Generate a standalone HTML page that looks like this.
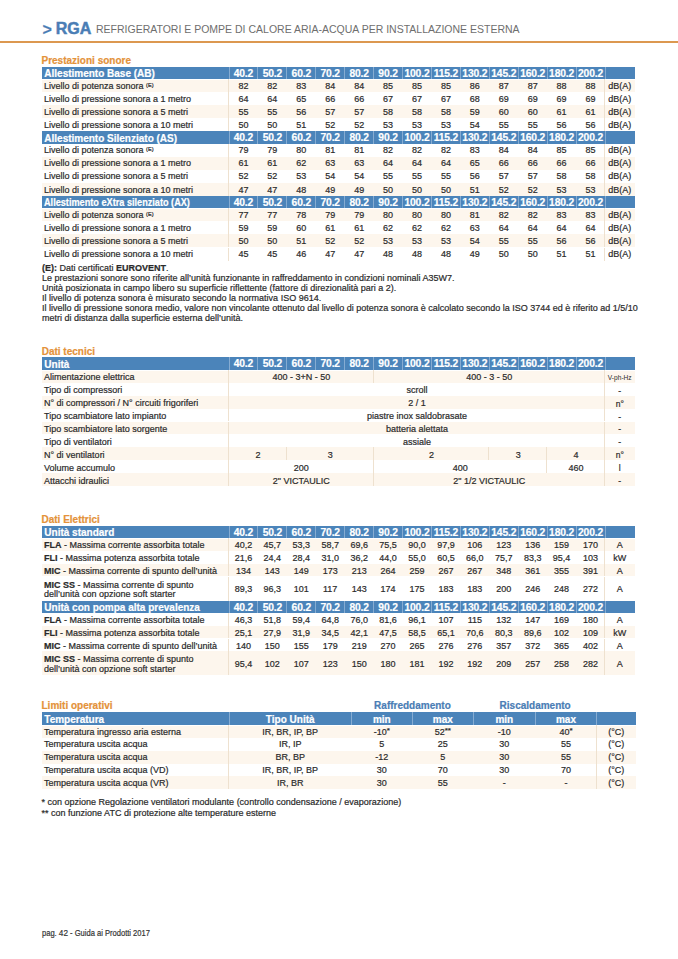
<!DOCTYPE html>
<html><head><meta charset="utf-8"><style>
html,body{margin:0;padding:0;background:#fff;}
body{width:678px;height:959px;position:relative;overflow:hidden;font-family:"Liberation Sans", sans-serif;color:#2a2a2a;}
body>div{position:absolute;line-height:1;white-space:nowrap;-webkit-text-stroke:0.2px currentColor;}
sup{font-size:0.62em;vertical-align:0.35em;line-height:0;}
sup.a{font-size:0.9em;vertical-align:0.2em;}
</style></head><body>
<div style="left:42.50px;top:22.06px;font-size:16px;color:#4a7db5;font-weight:700;">&gt;</div>
<div style="left:55.80px;top:20.76px;font-size:16px;color:#4a7db5;font-weight:700;-webkit-text-stroke:0.5px #4a7db5;">RGA</div>
<div style="left:96.00px;top:24.31px;font-size:11.8px;color:#6e6e6e;transform:scaleX(0.89);transform-origin:0 0;-webkit-text-stroke:0;">REFRIGERATORI E POMPE DI CALORE ARIA-ACQUA PER INSTALLAZIONE ESTERNA</div>
<div style="left:0.00px;top:40.60px;width:678.00px;height:2.40px;background:#dc9850"></div>
<div style="left:41.50px;top:55.73px;font-size:10px;color:#e4923a;font-weight:700;">Prestazioni sonore</div>
<div style="left:41.50px;top:66.80px;width:593.00px;height:12.20px;background:#4b84ba"></div>
<div style="left:44.30px;top:68.90px;font-size:10px;color:#fff;font-weight:700;">Allestimento Base (AB)</div>
<div style="left:228.50px;top:66.80px;width:1.00px;height:12.20px;background:#86acd2"></div>
<div style="left:257.42px;top:66.80px;width:1.00px;height:12.20px;background:#86acd2"></div>
<div style="left:286.35px;top:66.80px;width:1.00px;height:12.20px;background:#86acd2"></div>
<div style="left:315.27px;top:66.80px;width:1.00px;height:12.20px;background:#86acd2"></div>
<div style="left:344.19px;top:66.80px;width:1.00px;height:12.20px;background:#86acd2"></div>
<div style="left:373.12px;top:66.80px;width:1.00px;height:12.20px;background:#86acd2"></div>
<div style="left:402.04px;top:66.80px;width:1.00px;height:12.20px;background:#86acd2"></div>
<div style="left:430.96px;top:66.80px;width:1.00px;height:12.20px;background:#86acd2"></div>
<div style="left:459.88px;top:66.80px;width:1.00px;height:12.20px;background:#86acd2"></div>
<div style="left:488.81px;top:66.80px;width:1.00px;height:12.20px;background:#86acd2"></div>
<div style="left:517.73px;top:66.80px;width:1.00px;height:12.20px;background:#86acd2"></div>
<div style="left:546.65px;top:66.80px;width:1.00px;height:12.20px;background:#86acd2"></div>
<div style="left:575.58px;top:66.80px;width:1.00px;height:12.20px;background:#86acd2"></div>
<div style="left:604.50px;top:66.80px;width:1.00px;height:12.20px;background:#86acd2"></div>
<div style="left:229.00px;top:68.75px;font-size:10.3px;color:#fff;font-weight:700;width:28.92px;text-align:center;letter-spacing:-0.15px;">40.2</div>
<div style="left:257.92px;top:68.75px;font-size:10.3px;color:#fff;font-weight:700;width:28.92px;text-align:center;letter-spacing:-0.15px;">50.2</div>
<div style="left:286.85px;top:68.75px;font-size:10.3px;color:#fff;font-weight:700;width:28.92px;text-align:center;letter-spacing:-0.15px;">60.2</div>
<div style="left:315.77px;top:68.75px;font-size:10.3px;color:#fff;font-weight:700;width:28.92px;text-align:center;letter-spacing:-0.15px;">70.2</div>
<div style="left:344.69px;top:68.75px;font-size:10.3px;color:#fff;font-weight:700;width:28.92px;text-align:center;letter-spacing:-0.15px;">80.2</div>
<div style="left:373.62px;top:68.75px;font-size:10.3px;color:#fff;font-weight:700;width:28.92px;text-align:center;letter-spacing:-0.15px;">90.2</div>
<div style="left:402.54px;top:68.75px;font-size:10.3px;color:#fff;font-weight:700;width:28.92px;text-align:center;letter-spacing:-0.15px;">100.2</div>
<div style="left:431.46px;top:68.75px;font-size:10.3px;color:#fff;font-weight:700;width:28.92px;text-align:center;letter-spacing:-0.15px;">115.2</div>
<div style="left:460.38px;top:68.75px;font-size:10.3px;color:#fff;font-weight:700;width:28.92px;text-align:center;letter-spacing:-0.15px;">130.2</div>
<div style="left:489.31px;top:68.75px;font-size:10.3px;color:#fff;font-weight:700;width:28.92px;text-align:center;letter-spacing:-0.15px;">145.2</div>
<div style="left:518.23px;top:68.75px;font-size:10.3px;color:#fff;font-weight:700;width:28.92px;text-align:center;letter-spacing:-0.15px;">160.2</div>
<div style="left:547.15px;top:68.75px;font-size:10.3px;color:#fff;font-weight:700;width:28.92px;text-align:center;letter-spacing:-0.15px;">180.2</div>
<div style="left:576.08px;top:68.75px;font-size:10.3px;color:#fff;font-weight:700;width:28.92px;text-align:center;letter-spacing:-0.15px;">200.2</div>
<div style="left:41.50px;top:80.00px;width:593.00px;height:12.10px;background:#fdf6ed"></div>
<div style="left:228.10px;top:79.00px;width:1.00px;height:13.10px;background:#eee1cf"></div>
<div style="left:604.10px;top:79.00px;width:1.00px;height:13.10px;background:#eee1cf"></div>
<div style="left:44.00px;top:81.65px;font-size:9px;">Livello di potenza sonora <sup>(E)</sup></div>
<div style="left:229.00px;top:81.65px;font-size:9px;width:28.92px;text-align:center;">82</div>
<div style="left:257.92px;top:81.65px;font-size:9px;width:28.92px;text-align:center;">82</div>
<div style="left:286.85px;top:81.65px;font-size:9px;width:28.92px;text-align:center;">83</div>
<div style="left:315.77px;top:81.65px;font-size:9px;width:28.92px;text-align:center;">84</div>
<div style="left:344.69px;top:81.65px;font-size:9px;width:28.92px;text-align:center;">84</div>
<div style="left:373.62px;top:81.65px;font-size:9px;width:28.92px;text-align:center;">85</div>
<div style="left:402.54px;top:81.65px;font-size:9px;width:28.92px;text-align:center;">85</div>
<div style="left:431.46px;top:81.65px;font-size:9px;width:28.92px;text-align:center;">85</div>
<div style="left:460.38px;top:81.65px;font-size:9px;width:28.92px;text-align:center;">86</div>
<div style="left:489.31px;top:81.65px;font-size:9px;width:28.92px;text-align:center;">87</div>
<div style="left:518.23px;top:81.65px;font-size:9px;width:28.92px;text-align:center;">87</div>
<div style="left:547.15px;top:81.65px;font-size:9px;width:28.92px;text-align:center;">88</div>
<div style="left:576.08px;top:81.65px;font-size:9px;width:28.92px;text-align:center;">88</div>
<div style="left:605.00px;top:81.65px;font-size:9px;width:29.50px;text-align:center;">dB(A)</div>
<div style="left:228.10px;top:92.10px;width:1.00px;height:13.10px;background:#eee1cf"></div>
<div style="left:604.10px;top:92.10px;width:1.00px;height:13.10px;background:#eee1cf"></div>
<div style="left:44.00px;top:94.75px;font-size:9px;">Livello di pressione sonora a 1 metro</div>
<div style="left:229.00px;top:94.75px;font-size:9px;width:28.92px;text-align:center;">64</div>
<div style="left:257.92px;top:94.75px;font-size:9px;width:28.92px;text-align:center;">64</div>
<div style="left:286.85px;top:94.75px;font-size:9px;width:28.92px;text-align:center;">65</div>
<div style="left:315.77px;top:94.75px;font-size:9px;width:28.92px;text-align:center;">66</div>
<div style="left:344.69px;top:94.75px;font-size:9px;width:28.92px;text-align:center;">66</div>
<div style="left:373.62px;top:94.75px;font-size:9px;width:28.92px;text-align:center;">67</div>
<div style="left:402.54px;top:94.75px;font-size:9px;width:28.92px;text-align:center;">67</div>
<div style="left:431.46px;top:94.75px;font-size:9px;width:28.92px;text-align:center;">67</div>
<div style="left:460.38px;top:94.75px;font-size:9px;width:28.92px;text-align:center;">68</div>
<div style="left:489.31px;top:94.75px;font-size:9px;width:28.92px;text-align:center;">69</div>
<div style="left:518.23px;top:94.75px;font-size:9px;width:28.92px;text-align:center;">69</div>
<div style="left:547.15px;top:94.75px;font-size:9px;width:28.92px;text-align:center;">69</div>
<div style="left:576.08px;top:94.75px;font-size:9px;width:28.92px;text-align:center;">69</div>
<div style="left:605.00px;top:94.75px;font-size:9px;width:29.50px;text-align:center;">dB(A)</div>
<div style="left:41.50px;top:105.20px;width:593.00px;height:13.10px;background:#fdf6ed"></div>
<div style="left:228.10px;top:105.20px;width:1.00px;height:13.10px;background:#eee1cf"></div>
<div style="left:604.10px;top:105.20px;width:1.00px;height:13.10px;background:#eee1cf"></div>
<div style="left:44.00px;top:107.85px;font-size:9px;">Livello di pressione sonora a 5 metri</div>
<div style="left:229.00px;top:107.85px;font-size:9px;width:28.92px;text-align:center;">55</div>
<div style="left:257.92px;top:107.85px;font-size:9px;width:28.92px;text-align:center;">55</div>
<div style="left:286.85px;top:107.85px;font-size:9px;width:28.92px;text-align:center;">56</div>
<div style="left:315.77px;top:107.85px;font-size:9px;width:28.92px;text-align:center;">57</div>
<div style="left:344.69px;top:107.85px;font-size:9px;width:28.92px;text-align:center;">57</div>
<div style="left:373.62px;top:107.85px;font-size:9px;width:28.92px;text-align:center;">58</div>
<div style="left:402.54px;top:107.85px;font-size:9px;width:28.92px;text-align:center;">58</div>
<div style="left:431.46px;top:107.85px;font-size:9px;width:28.92px;text-align:center;">58</div>
<div style="left:460.38px;top:107.85px;font-size:9px;width:28.92px;text-align:center;">59</div>
<div style="left:489.31px;top:107.85px;font-size:9px;width:28.92px;text-align:center;">60</div>
<div style="left:518.23px;top:107.85px;font-size:9px;width:28.92px;text-align:center;">60</div>
<div style="left:547.15px;top:107.85px;font-size:9px;width:28.92px;text-align:center;">61</div>
<div style="left:576.08px;top:107.85px;font-size:9px;width:28.92px;text-align:center;">61</div>
<div style="left:605.00px;top:107.85px;font-size:9px;width:29.50px;text-align:center;">dB(A)</div>
<div style="left:228.10px;top:118.30px;width:1.00px;height:13.10px;background:#eee1cf"></div>
<div style="left:604.10px;top:118.30px;width:1.00px;height:13.10px;background:#eee1cf"></div>
<div style="left:44.00px;top:120.95px;font-size:9px;">Livello di pressione sonora a 10 metri</div>
<div style="left:229.00px;top:120.95px;font-size:9px;width:28.92px;text-align:center;">50</div>
<div style="left:257.92px;top:120.95px;font-size:9px;width:28.92px;text-align:center;">50</div>
<div style="left:286.85px;top:120.95px;font-size:9px;width:28.92px;text-align:center;">51</div>
<div style="left:315.77px;top:120.95px;font-size:9px;width:28.92px;text-align:center;">52</div>
<div style="left:344.69px;top:120.95px;font-size:9px;width:28.92px;text-align:center;">52</div>
<div style="left:373.62px;top:120.95px;font-size:9px;width:28.92px;text-align:center;">53</div>
<div style="left:402.54px;top:120.95px;font-size:9px;width:28.92px;text-align:center;">53</div>
<div style="left:431.46px;top:120.95px;font-size:9px;width:28.92px;text-align:center;">53</div>
<div style="left:460.38px;top:120.95px;font-size:9px;width:28.92px;text-align:center;">54</div>
<div style="left:489.31px;top:120.95px;font-size:9px;width:28.92px;text-align:center;">55</div>
<div style="left:518.23px;top:120.95px;font-size:9px;width:28.92px;text-align:center;">55</div>
<div style="left:547.15px;top:120.95px;font-size:9px;width:28.92px;text-align:center;">56</div>
<div style="left:576.08px;top:120.95px;font-size:9px;width:28.92px;text-align:center;">56</div>
<div style="left:605.00px;top:120.95px;font-size:9px;width:29.50px;text-align:center;">dB(A)</div>
<div style="left:41.50px;top:131.40px;width:593.00px;height:12.20px;background:#4b84ba"></div>
<div style="left:44.30px;top:133.50px;font-size:10px;color:#fff;font-weight:700;">Allestimento Silenziato (AS)</div>
<div style="left:228.50px;top:131.40px;width:1.00px;height:12.20px;background:#86acd2"></div>
<div style="left:257.42px;top:131.40px;width:1.00px;height:12.20px;background:#86acd2"></div>
<div style="left:286.35px;top:131.40px;width:1.00px;height:12.20px;background:#86acd2"></div>
<div style="left:315.27px;top:131.40px;width:1.00px;height:12.20px;background:#86acd2"></div>
<div style="left:344.19px;top:131.40px;width:1.00px;height:12.20px;background:#86acd2"></div>
<div style="left:373.12px;top:131.40px;width:1.00px;height:12.20px;background:#86acd2"></div>
<div style="left:402.04px;top:131.40px;width:1.00px;height:12.20px;background:#86acd2"></div>
<div style="left:430.96px;top:131.40px;width:1.00px;height:12.20px;background:#86acd2"></div>
<div style="left:459.88px;top:131.40px;width:1.00px;height:12.20px;background:#86acd2"></div>
<div style="left:488.81px;top:131.40px;width:1.00px;height:12.20px;background:#86acd2"></div>
<div style="left:517.73px;top:131.40px;width:1.00px;height:12.20px;background:#86acd2"></div>
<div style="left:546.65px;top:131.40px;width:1.00px;height:12.20px;background:#86acd2"></div>
<div style="left:575.58px;top:131.40px;width:1.00px;height:12.20px;background:#86acd2"></div>
<div style="left:604.50px;top:131.40px;width:1.00px;height:12.20px;background:#86acd2"></div>
<div style="left:229.00px;top:133.35px;font-size:10.3px;color:#fff;font-weight:700;width:28.92px;text-align:center;letter-spacing:-0.15px;">40.2</div>
<div style="left:257.92px;top:133.35px;font-size:10.3px;color:#fff;font-weight:700;width:28.92px;text-align:center;letter-spacing:-0.15px;">50.2</div>
<div style="left:286.85px;top:133.35px;font-size:10.3px;color:#fff;font-weight:700;width:28.92px;text-align:center;letter-spacing:-0.15px;">60.2</div>
<div style="left:315.77px;top:133.35px;font-size:10.3px;color:#fff;font-weight:700;width:28.92px;text-align:center;letter-spacing:-0.15px;">70.2</div>
<div style="left:344.69px;top:133.35px;font-size:10.3px;color:#fff;font-weight:700;width:28.92px;text-align:center;letter-spacing:-0.15px;">80.2</div>
<div style="left:373.62px;top:133.35px;font-size:10.3px;color:#fff;font-weight:700;width:28.92px;text-align:center;letter-spacing:-0.15px;">90.2</div>
<div style="left:402.54px;top:133.35px;font-size:10.3px;color:#fff;font-weight:700;width:28.92px;text-align:center;letter-spacing:-0.15px;">100.2</div>
<div style="left:431.46px;top:133.35px;font-size:10.3px;color:#fff;font-weight:700;width:28.92px;text-align:center;letter-spacing:-0.15px;">115.2</div>
<div style="left:460.38px;top:133.35px;font-size:10.3px;color:#fff;font-weight:700;width:28.92px;text-align:center;letter-spacing:-0.15px;">130.2</div>
<div style="left:489.31px;top:133.35px;font-size:10.3px;color:#fff;font-weight:700;width:28.92px;text-align:center;letter-spacing:-0.15px;">145.2</div>
<div style="left:518.23px;top:133.35px;font-size:10.3px;color:#fff;font-weight:700;width:28.92px;text-align:center;letter-spacing:-0.15px;">160.2</div>
<div style="left:547.15px;top:133.35px;font-size:10.3px;color:#fff;font-weight:700;width:28.92px;text-align:center;letter-spacing:-0.15px;">180.2</div>
<div style="left:576.08px;top:133.35px;font-size:10.3px;color:#fff;font-weight:700;width:28.92px;text-align:center;letter-spacing:-0.15px;">200.2</div>
<div style="left:228.10px;top:143.60px;width:1.00px;height:13.10px;background:#eee1cf"></div>
<div style="left:604.10px;top:143.60px;width:1.00px;height:13.10px;background:#eee1cf"></div>
<div style="left:44.00px;top:146.25px;font-size:9px;">Livello di potenza sonora <sup>(E)</sup></div>
<div style="left:229.00px;top:146.25px;font-size:9px;width:28.92px;text-align:center;">79</div>
<div style="left:257.92px;top:146.25px;font-size:9px;width:28.92px;text-align:center;">79</div>
<div style="left:286.85px;top:146.25px;font-size:9px;width:28.92px;text-align:center;">80</div>
<div style="left:315.77px;top:146.25px;font-size:9px;width:28.92px;text-align:center;">81</div>
<div style="left:344.69px;top:146.25px;font-size:9px;width:28.92px;text-align:center;">81</div>
<div style="left:373.62px;top:146.25px;font-size:9px;width:28.92px;text-align:center;">82</div>
<div style="left:402.54px;top:146.25px;font-size:9px;width:28.92px;text-align:center;">82</div>
<div style="left:431.46px;top:146.25px;font-size:9px;width:28.92px;text-align:center;">82</div>
<div style="left:460.38px;top:146.25px;font-size:9px;width:28.92px;text-align:center;">83</div>
<div style="left:489.31px;top:146.25px;font-size:9px;width:28.92px;text-align:center;">84</div>
<div style="left:518.23px;top:146.25px;font-size:9px;width:28.92px;text-align:center;">84</div>
<div style="left:547.15px;top:146.25px;font-size:9px;width:28.92px;text-align:center;">85</div>
<div style="left:576.08px;top:146.25px;font-size:9px;width:28.92px;text-align:center;">85</div>
<div style="left:605.00px;top:146.25px;font-size:9px;width:29.50px;text-align:center;">dB(A)</div>
<div style="left:41.50px;top:156.70px;width:593.00px;height:13.10px;background:#fdf6ed"></div>
<div style="left:228.10px;top:156.70px;width:1.00px;height:13.10px;background:#eee1cf"></div>
<div style="left:604.10px;top:156.70px;width:1.00px;height:13.10px;background:#eee1cf"></div>
<div style="left:44.00px;top:159.35px;font-size:9px;">Livello di pressione sonora a 1 metro</div>
<div style="left:229.00px;top:159.35px;font-size:9px;width:28.92px;text-align:center;">61</div>
<div style="left:257.92px;top:159.35px;font-size:9px;width:28.92px;text-align:center;">61</div>
<div style="left:286.85px;top:159.35px;font-size:9px;width:28.92px;text-align:center;">62</div>
<div style="left:315.77px;top:159.35px;font-size:9px;width:28.92px;text-align:center;">63</div>
<div style="left:344.69px;top:159.35px;font-size:9px;width:28.92px;text-align:center;">63</div>
<div style="left:373.62px;top:159.35px;font-size:9px;width:28.92px;text-align:center;">64</div>
<div style="left:402.54px;top:159.35px;font-size:9px;width:28.92px;text-align:center;">64</div>
<div style="left:431.46px;top:159.35px;font-size:9px;width:28.92px;text-align:center;">64</div>
<div style="left:460.38px;top:159.35px;font-size:9px;width:28.92px;text-align:center;">65</div>
<div style="left:489.31px;top:159.35px;font-size:9px;width:28.92px;text-align:center;">66</div>
<div style="left:518.23px;top:159.35px;font-size:9px;width:28.92px;text-align:center;">66</div>
<div style="left:547.15px;top:159.35px;font-size:9px;width:28.92px;text-align:center;">66</div>
<div style="left:576.08px;top:159.35px;font-size:9px;width:28.92px;text-align:center;">66</div>
<div style="left:605.00px;top:159.35px;font-size:9px;width:29.50px;text-align:center;">dB(A)</div>
<div style="left:228.10px;top:169.80px;width:1.00px;height:13.10px;background:#eee1cf"></div>
<div style="left:604.10px;top:169.80px;width:1.00px;height:13.10px;background:#eee1cf"></div>
<div style="left:44.00px;top:172.45px;font-size:9px;">Livello di pressione sonora a 5 metri</div>
<div style="left:229.00px;top:172.45px;font-size:9px;width:28.92px;text-align:center;">52</div>
<div style="left:257.92px;top:172.45px;font-size:9px;width:28.92px;text-align:center;">52</div>
<div style="left:286.85px;top:172.45px;font-size:9px;width:28.92px;text-align:center;">53</div>
<div style="left:315.77px;top:172.45px;font-size:9px;width:28.92px;text-align:center;">54</div>
<div style="left:344.69px;top:172.45px;font-size:9px;width:28.92px;text-align:center;">54</div>
<div style="left:373.62px;top:172.45px;font-size:9px;width:28.92px;text-align:center;">55</div>
<div style="left:402.54px;top:172.45px;font-size:9px;width:28.92px;text-align:center;">55</div>
<div style="left:431.46px;top:172.45px;font-size:9px;width:28.92px;text-align:center;">55</div>
<div style="left:460.38px;top:172.45px;font-size:9px;width:28.92px;text-align:center;">56</div>
<div style="left:489.31px;top:172.45px;font-size:9px;width:28.92px;text-align:center;">57</div>
<div style="left:518.23px;top:172.45px;font-size:9px;width:28.92px;text-align:center;">57</div>
<div style="left:547.15px;top:172.45px;font-size:9px;width:28.92px;text-align:center;">58</div>
<div style="left:576.08px;top:172.45px;font-size:9px;width:28.92px;text-align:center;">58</div>
<div style="left:605.00px;top:172.45px;font-size:9px;width:29.50px;text-align:center;">dB(A)</div>
<div style="left:41.50px;top:182.90px;width:593.00px;height:13.10px;background:#fdf6ed"></div>
<div style="left:228.10px;top:182.90px;width:1.00px;height:13.10px;background:#eee1cf"></div>
<div style="left:604.10px;top:182.90px;width:1.00px;height:13.10px;background:#eee1cf"></div>
<div style="left:44.00px;top:185.55px;font-size:9px;">Livello di pressione sonora a 10 metri</div>
<div style="left:229.00px;top:185.55px;font-size:9px;width:28.92px;text-align:center;">47</div>
<div style="left:257.92px;top:185.55px;font-size:9px;width:28.92px;text-align:center;">47</div>
<div style="left:286.85px;top:185.55px;font-size:9px;width:28.92px;text-align:center;">48</div>
<div style="left:315.77px;top:185.55px;font-size:9px;width:28.92px;text-align:center;">49</div>
<div style="left:344.69px;top:185.55px;font-size:9px;width:28.92px;text-align:center;">49</div>
<div style="left:373.62px;top:185.55px;font-size:9px;width:28.92px;text-align:center;">50</div>
<div style="left:402.54px;top:185.55px;font-size:9px;width:28.92px;text-align:center;">50</div>
<div style="left:431.46px;top:185.55px;font-size:9px;width:28.92px;text-align:center;">50</div>
<div style="left:460.38px;top:185.55px;font-size:9px;width:28.92px;text-align:center;">51</div>
<div style="left:489.31px;top:185.55px;font-size:9px;width:28.92px;text-align:center;">52</div>
<div style="left:518.23px;top:185.55px;font-size:9px;width:28.92px;text-align:center;">52</div>
<div style="left:547.15px;top:185.55px;font-size:9px;width:28.92px;text-align:center;">53</div>
<div style="left:576.08px;top:185.55px;font-size:9px;width:28.92px;text-align:center;">53</div>
<div style="left:605.00px;top:185.55px;font-size:9px;width:29.50px;text-align:center;">dB(A)</div>
<div style="left:41.50px;top:196.00px;width:593.00px;height:12.20px;background:#4b84ba"></div>
<div style="left:44.30px;top:198.10px;font-size:10px;color:#fff;font-weight:700;transform:scaleX(0.915);transform-origin:0 0;">Allestimento eXtra silenziato (AX)</div>
<div style="left:228.50px;top:196.00px;width:1.00px;height:12.20px;background:#86acd2"></div>
<div style="left:257.42px;top:196.00px;width:1.00px;height:12.20px;background:#86acd2"></div>
<div style="left:286.35px;top:196.00px;width:1.00px;height:12.20px;background:#86acd2"></div>
<div style="left:315.27px;top:196.00px;width:1.00px;height:12.20px;background:#86acd2"></div>
<div style="left:344.19px;top:196.00px;width:1.00px;height:12.20px;background:#86acd2"></div>
<div style="left:373.12px;top:196.00px;width:1.00px;height:12.20px;background:#86acd2"></div>
<div style="left:402.04px;top:196.00px;width:1.00px;height:12.20px;background:#86acd2"></div>
<div style="left:430.96px;top:196.00px;width:1.00px;height:12.20px;background:#86acd2"></div>
<div style="left:459.88px;top:196.00px;width:1.00px;height:12.20px;background:#86acd2"></div>
<div style="left:488.81px;top:196.00px;width:1.00px;height:12.20px;background:#86acd2"></div>
<div style="left:517.73px;top:196.00px;width:1.00px;height:12.20px;background:#86acd2"></div>
<div style="left:546.65px;top:196.00px;width:1.00px;height:12.20px;background:#86acd2"></div>
<div style="left:575.58px;top:196.00px;width:1.00px;height:12.20px;background:#86acd2"></div>
<div style="left:604.50px;top:196.00px;width:1.00px;height:12.20px;background:#86acd2"></div>
<div style="left:229.00px;top:197.95px;font-size:10.3px;color:#fff;font-weight:700;width:28.92px;text-align:center;letter-spacing:-0.15px;">40.2</div>
<div style="left:257.92px;top:197.95px;font-size:10.3px;color:#fff;font-weight:700;width:28.92px;text-align:center;letter-spacing:-0.15px;">50.2</div>
<div style="left:286.85px;top:197.95px;font-size:10.3px;color:#fff;font-weight:700;width:28.92px;text-align:center;letter-spacing:-0.15px;">60.2</div>
<div style="left:315.77px;top:197.95px;font-size:10.3px;color:#fff;font-weight:700;width:28.92px;text-align:center;letter-spacing:-0.15px;">70.2</div>
<div style="left:344.69px;top:197.95px;font-size:10.3px;color:#fff;font-weight:700;width:28.92px;text-align:center;letter-spacing:-0.15px;">80.2</div>
<div style="left:373.62px;top:197.95px;font-size:10.3px;color:#fff;font-weight:700;width:28.92px;text-align:center;letter-spacing:-0.15px;">90.2</div>
<div style="left:402.54px;top:197.95px;font-size:10.3px;color:#fff;font-weight:700;width:28.92px;text-align:center;letter-spacing:-0.15px;">100.2</div>
<div style="left:431.46px;top:197.95px;font-size:10.3px;color:#fff;font-weight:700;width:28.92px;text-align:center;letter-spacing:-0.15px;">115.2</div>
<div style="left:460.38px;top:197.95px;font-size:10.3px;color:#fff;font-weight:700;width:28.92px;text-align:center;letter-spacing:-0.15px;">130.2</div>
<div style="left:489.31px;top:197.95px;font-size:10.3px;color:#fff;font-weight:700;width:28.92px;text-align:center;letter-spacing:-0.15px;">145.2</div>
<div style="left:518.23px;top:197.95px;font-size:10.3px;color:#fff;font-weight:700;width:28.92px;text-align:center;letter-spacing:-0.15px;">160.2</div>
<div style="left:547.15px;top:197.95px;font-size:10.3px;color:#fff;font-weight:700;width:28.92px;text-align:center;letter-spacing:-0.15px;">180.2</div>
<div style="left:576.08px;top:197.95px;font-size:10.3px;color:#fff;font-weight:700;width:28.92px;text-align:center;letter-spacing:-0.15px;">200.2</div>
<div style="left:41.50px;top:209.20px;width:593.00px;height:12.10px;background:#fdf6ed"></div>
<div style="left:228.10px;top:208.20px;width:1.00px;height:13.10px;background:#eee1cf"></div>
<div style="left:604.10px;top:208.20px;width:1.00px;height:13.10px;background:#eee1cf"></div>
<div style="left:44.00px;top:210.85px;font-size:9px;">Livello di potenza sonora <sup>(E)</sup></div>
<div style="left:229.00px;top:210.85px;font-size:9px;width:28.92px;text-align:center;">77</div>
<div style="left:257.92px;top:210.85px;font-size:9px;width:28.92px;text-align:center;">77</div>
<div style="left:286.85px;top:210.85px;font-size:9px;width:28.92px;text-align:center;">78</div>
<div style="left:315.77px;top:210.85px;font-size:9px;width:28.92px;text-align:center;">79</div>
<div style="left:344.69px;top:210.85px;font-size:9px;width:28.92px;text-align:center;">79</div>
<div style="left:373.62px;top:210.85px;font-size:9px;width:28.92px;text-align:center;">80</div>
<div style="left:402.54px;top:210.85px;font-size:9px;width:28.92px;text-align:center;">80</div>
<div style="left:431.46px;top:210.85px;font-size:9px;width:28.92px;text-align:center;">80</div>
<div style="left:460.38px;top:210.85px;font-size:9px;width:28.92px;text-align:center;">81</div>
<div style="left:489.31px;top:210.85px;font-size:9px;width:28.92px;text-align:center;">82</div>
<div style="left:518.23px;top:210.85px;font-size:9px;width:28.92px;text-align:center;">82</div>
<div style="left:547.15px;top:210.85px;font-size:9px;width:28.92px;text-align:center;">83</div>
<div style="left:576.08px;top:210.85px;font-size:9px;width:28.92px;text-align:center;">83</div>
<div style="left:605.00px;top:210.85px;font-size:9px;width:29.50px;text-align:center;">dB(A)</div>
<div style="left:228.10px;top:221.30px;width:1.00px;height:13.10px;background:#eee1cf"></div>
<div style="left:604.10px;top:221.30px;width:1.00px;height:13.10px;background:#eee1cf"></div>
<div style="left:44.00px;top:223.95px;font-size:9px;">Livello di pressione sonora a 1 metro</div>
<div style="left:229.00px;top:223.95px;font-size:9px;width:28.92px;text-align:center;">59</div>
<div style="left:257.92px;top:223.95px;font-size:9px;width:28.92px;text-align:center;">59</div>
<div style="left:286.85px;top:223.95px;font-size:9px;width:28.92px;text-align:center;">60</div>
<div style="left:315.77px;top:223.95px;font-size:9px;width:28.92px;text-align:center;">61</div>
<div style="left:344.69px;top:223.95px;font-size:9px;width:28.92px;text-align:center;">61</div>
<div style="left:373.62px;top:223.95px;font-size:9px;width:28.92px;text-align:center;">62</div>
<div style="left:402.54px;top:223.95px;font-size:9px;width:28.92px;text-align:center;">62</div>
<div style="left:431.46px;top:223.95px;font-size:9px;width:28.92px;text-align:center;">62</div>
<div style="left:460.38px;top:223.95px;font-size:9px;width:28.92px;text-align:center;">63</div>
<div style="left:489.31px;top:223.95px;font-size:9px;width:28.92px;text-align:center;">64</div>
<div style="left:518.23px;top:223.95px;font-size:9px;width:28.92px;text-align:center;">64</div>
<div style="left:547.15px;top:223.95px;font-size:9px;width:28.92px;text-align:center;">64</div>
<div style="left:576.08px;top:223.95px;font-size:9px;width:28.92px;text-align:center;">64</div>
<div style="left:605.00px;top:223.95px;font-size:9px;width:29.50px;text-align:center;">dB(A)</div>
<div style="left:41.50px;top:234.40px;width:593.00px;height:13.10px;background:#fdf6ed"></div>
<div style="left:228.10px;top:234.40px;width:1.00px;height:13.10px;background:#eee1cf"></div>
<div style="left:604.10px;top:234.40px;width:1.00px;height:13.10px;background:#eee1cf"></div>
<div style="left:44.00px;top:237.05px;font-size:9px;">Livello di pressione sonora a 5 metri</div>
<div style="left:229.00px;top:237.05px;font-size:9px;width:28.92px;text-align:center;">50</div>
<div style="left:257.92px;top:237.05px;font-size:9px;width:28.92px;text-align:center;">50</div>
<div style="left:286.85px;top:237.05px;font-size:9px;width:28.92px;text-align:center;">51</div>
<div style="left:315.77px;top:237.05px;font-size:9px;width:28.92px;text-align:center;">52</div>
<div style="left:344.69px;top:237.05px;font-size:9px;width:28.92px;text-align:center;">52</div>
<div style="left:373.62px;top:237.05px;font-size:9px;width:28.92px;text-align:center;">53</div>
<div style="left:402.54px;top:237.05px;font-size:9px;width:28.92px;text-align:center;">53</div>
<div style="left:431.46px;top:237.05px;font-size:9px;width:28.92px;text-align:center;">53</div>
<div style="left:460.38px;top:237.05px;font-size:9px;width:28.92px;text-align:center;">54</div>
<div style="left:489.31px;top:237.05px;font-size:9px;width:28.92px;text-align:center;">55</div>
<div style="left:518.23px;top:237.05px;font-size:9px;width:28.92px;text-align:center;">55</div>
<div style="left:547.15px;top:237.05px;font-size:9px;width:28.92px;text-align:center;">56</div>
<div style="left:576.08px;top:237.05px;font-size:9px;width:28.92px;text-align:center;">56</div>
<div style="left:605.00px;top:237.05px;font-size:9px;width:29.50px;text-align:center;">dB(A)</div>
<div style="left:228.10px;top:247.50px;width:1.00px;height:13.10px;background:#eee1cf"></div>
<div style="left:604.10px;top:247.50px;width:1.00px;height:13.10px;background:#eee1cf"></div>
<div style="left:44.00px;top:250.15px;font-size:9px;">Livello di pressione sonora a 10 metri</div>
<div style="left:229.00px;top:250.15px;font-size:9px;width:28.92px;text-align:center;">45</div>
<div style="left:257.92px;top:250.15px;font-size:9px;width:28.92px;text-align:center;">45</div>
<div style="left:286.85px;top:250.15px;font-size:9px;width:28.92px;text-align:center;">46</div>
<div style="left:315.77px;top:250.15px;font-size:9px;width:28.92px;text-align:center;">47</div>
<div style="left:344.69px;top:250.15px;font-size:9px;width:28.92px;text-align:center;">47</div>
<div style="left:373.62px;top:250.15px;font-size:9px;width:28.92px;text-align:center;">48</div>
<div style="left:402.54px;top:250.15px;font-size:9px;width:28.92px;text-align:center;">48</div>
<div style="left:431.46px;top:250.15px;font-size:9px;width:28.92px;text-align:center;">48</div>
<div style="left:460.38px;top:250.15px;font-size:9px;width:28.92px;text-align:center;">49</div>
<div style="left:489.31px;top:250.15px;font-size:9px;width:28.92px;text-align:center;">50</div>
<div style="left:518.23px;top:250.15px;font-size:9px;width:28.92px;text-align:center;">50</div>
<div style="left:547.15px;top:250.15px;font-size:9px;width:28.92px;text-align:center;">51</div>
<div style="left:576.08px;top:250.15px;font-size:9px;width:28.92px;text-align:center;">51</div>
<div style="left:605.00px;top:250.15px;font-size:9px;width:29.50px;text-align:center;">dB(A)</div>
<div style="left:42.00px;top:264.18px;font-size:9px;"><b>(E):</b> Dati certificati <b>EUROVENT</b>.</div>
<div style="left:42.00px;top:274.13px;font-size:9px;">Le prestazioni sonore sono riferite all&#8217;unità funzionante in raffreddamento in condizioni nominali A35W7.</div>
<div style="left:42.00px;top:284.08px;font-size:9px;">Unità posizionata in campo libero su superficie riflettente (fattore di direzionalità pari a 2).</div>
<div style="left:42.00px;top:293.78px;font-size:9px;">Il livello di potenza sonora è misurato secondo la normativa ISO 9614.</div>
<div style="left:42.00px;top:303.98px;font-size:9px;">Il livello di pressione sonora medio, valore non vincolante ottenuto dal livello di potenza sonora è calcolato secondo la ISO 3744 ed è riferito ad 1/5/10</div>
<div style="left:42.00px;top:313.98px;font-size:9px;">metri di distanza dalla superficie esterna dell&#8217;unità.</div>
<div style="left:41.70px;top:347.34px;font-size:10px;color:#e4923a;font-weight:700;">Dati tecnici</div>
<div style="left:41.50px;top:357.20px;width:593.00px;height:12.70px;background:#4b84ba"></div>
<div style="left:44.30px;top:359.55px;font-size:10px;color:#fff;font-weight:700;">Unità</div>
<div style="left:228.50px;top:357.20px;width:1.00px;height:12.70px;background:#86acd2"></div>
<div style="left:257.42px;top:357.20px;width:1.00px;height:12.70px;background:#86acd2"></div>
<div style="left:286.35px;top:357.20px;width:1.00px;height:12.70px;background:#86acd2"></div>
<div style="left:315.27px;top:357.20px;width:1.00px;height:12.70px;background:#86acd2"></div>
<div style="left:344.19px;top:357.20px;width:1.00px;height:12.70px;background:#86acd2"></div>
<div style="left:373.12px;top:357.20px;width:1.00px;height:12.70px;background:#86acd2"></div>
<div style="left:402.04px;top:357.20px;width:1.00px;height:12.70px;background:#86acd2"></div>
<div style="left:430.96px;top:357.20px;width:1.00px;height:12.70px;background:#86acd2"></div>
<div style="left:459.88px;top:357.20px;width:1.00px;height:12.70px;background:#86acd2"></div>
<div style="left:488.81px;top:357.20px;width:1.00px;height:12.70px;background:#86acd2"></div>
<div style="left:517.73px;top:357.20px;width:1.00px;height:12.70px;background:#86acd2"></div>
<div style="left:546.65px;top:357.20px;width:1.00px;height:12.70px;background:#86acd2"></div>
<div style="left:575.58px;top:357.20px;width:1.00px;height:12.70px;background:#86acd2"></div>
<div style="left:604.50px;top:357.20px;width:1.00px;height:12.70px;background:#86acd2"></div>
<div style="left:229.00px;top:359.40px;font-size:10.3px;color:#fff;font-weight:700;width:28.92px;text-align:center;letter-spacing:-0.15px;">40.2</div>
<div style="left:257.92px;top:359.40px;font-size:10.3px;color:#fff;font-weight:700;width:28.92px;text-align:center;letter-spacing:-0.15px;">50.2</div>
<div style="left:286.85px;top:359.40px;font-size:10.3px;color:#fff;font-weight:700;width:28.92px;text-align:center;letter-spacing:-0.15px;">60.2</div>
<div style="left:315.77px;top:359.40px;font-size:10.3px;color:#fff;font-weight:700;width:28.92px;text-align:center;letter-spacing:-0.15px;">70.2</div>
<div style="left:344.69px;top:359.40px;font-size:10.3px;color:#fff;font-weight:700;width:28.92px;text-align:center;letter-spacing:-0.15px;">80.2</div>
<div style="left:373.62px;top:359.40px;font-size:10.3px;color:#fff;font-weight:700;width:28.92px;text-align:center;letter-spacing:-0.15px;">90.2</div>
<div style="left:402.54px;top:359.40px;font-size:10.3px;color:#fff;font-weight:700;width:28.92px;text-align:center;letter-spacing:-0.15px;">100.2</div>
<div style="left:431.46px;top:359.40px;font-size:10.3px;color:#fff;font-weight:700;width:28.92px;text-align:center;letter-spacing:-0.15px;">115.2</div>
<div style="left:460.38px;top:359.40px;font-size:10.3px;color:#fff;font-weight:700;width:28.92px;text-align:center;letter-spacing:-0.15px;">130.2</div>
<div style="left:489.31px;top:359.40px;font-size:10.3px;color:#fff;font-weight:700;width:28.92px;text-align:center;letter-spacing:-0.15px;">145.2</div>
<div style="left:518.23px;top:359.40px;font-size:10.3px;color:#fff;font-weight:700;width:28.92px;text-align:center;letter-spacing:-0.15px;">160.2</div>
<div style="left:547.15px;top:359.40px;font-size:10.3px;color:#fff;font-weight:700;width:28.92px;text-align:center;letter-spacing:-0.15px;">180.2</div>
<div style="left:576.08px;top:359.40px;font-size:10.3px;color:#fff;font-weight:700;width:28.92px;text-align:center;letter-spacing:-0.15px;">200.2</div>
<div style="left:41.50px;top:370.90px;width:593.00px;height:11.90px;background:#fdf6ed"></div>
<div style="left:228.10px;top:369.90px;width:1.00px;height:12.90px;background:#eee1cf"></div>
<div style="left:604.10px;top:369.90px;width:1.00px;height:12.90px;background:#eee1cf"></div>
<div style="left:372.72px;top:369.90px;width:1.00px;height:12.90px;background:#eee1cf"></div>
<div style="left:44.00px;top:373.45px;font-size:9px;">Alimentazione elettrica</div>
<div style="left:229.00px;top:373.45px;font-size:9px;width:144.62px;text-align:center;">400 - 3+N - 50</div>
<div style="left:373.62px;top:373.45px;font-size:9px;width:231.38px;text-align:center;">400 - 3 - 50</div>
<div style="left:605.00px;top:374.78px;font-size:6.6px;width:29.50px;text-align:center;-webkit-text-stroke:0;">V-ph-Hz</div>
<div style="left:228.10px;top:382.80px;width:1.00px;height:12.90px;background:#eee1cf"></div>
<div style="left:604.10px;top:382.80px;width:1.00px;height:12.90px;background:#eee1cf"></div>
<div style="left:44.00px;top:386.35px;font-size:9px;">Tipo di compressori</div>
<div style="left:229.00px;top:386.35px;font-size:9px;width:376.00px;text-align:center;">scroll</div>
<div style="left:605.00px;top:386.77px;font-size:8.5px;width:29.50px;text-align:center;">-</div>
<div style="left:41.50px;top:395.70px;width:593.00px;height:12.90px;background:#fdf6ed"></div>
<div style="left:228.10px;top:395.70px;width:1.00px;height:12.90px;background:#eee1cf"></div>
<div style="left:604.10px;top:395.70px;width:1.00px;height:12.90px;background:#eee1cf"></div>
<div style="left:44.00px;top:399.25px;font-size:9px;">N° di compressori / N° circuiti frigoriferi</div>
<div style="left:229.00px;top:399.25px;font-size:9px;width:376.00px;text-align:center;">2 / 1</div>
<div style="left:605.00px;top:399.67px;font-size:8.5px;width:29.50px;text-align:center;">n°</div>
<div style="left:228.10px;top:408.60px;width:1.00px;height:12.90px;background:#eee1cf"></div>
<div style="left:604.10px;top:408.60px;width:1.00px;height:12.90px;background:#eee1cf"></div>
<div style="left:44.00px;top:412.15px;font-size:9px;">Tipo scambiatore lato impianto</div>
<div style="left:229.00px;top:412.15px;font-size:9px;width:376.00px;text-align:center;">piastre inox saldobrasate</div>
<div style="left:605.00px;top:412.57px;font-size:8.5px;width:29.50px;text-align:center;">-</div>
<div style="left:41.50px;top:421.50px;width:593.00px;height:12.90px;background:#fdf6ed"></div>
<div style="left:228.10px;top:421.50px;width:1.00px;height:12.90px;background:#eee1cf"></div>
<div style="left:604.10px;top:421.50px;width:1.00px;height:12.90px;background:#eee1cf"></div>
<div style="left:44.00px;top:425.05px;font-size:9px;">Tipo scambiatore lato sorgente</div>
<div style="left:229.00px;top:425.05px;font-size:9px;width:376.00px;text-align:center;">batteria alettata</div>
<div style="left:605.00px;top:425.47px;font-size:8.5px;width:29.50px;text-align:center;">-</div>
<div style="left:228.10px;top:434.40px;width:1.00px;height:12.90px;background:#eee1cf"></div>
<div style="left:604.10px;top:434.40px;width:1.00px;height:12.90px;background:#eee1cf"></div>
<div style="left:44.00px;top:437.95px;font-size:9px;">Tipo di ventilatori</div>
<div style="left:229.00px;top:437.95px;font-size:9px;width:376.00px;text-align:center;">assiale</div>
<div style="left:605.00px;top:438.37px;font-size:8.5px;width:29.50px;text-align:center;">-</div>
<div style="left:41.50px;top:447.30px;width:593.00px;height:12.90px;background:#fdf6ed"></div>
<div style="left:228.10px;top:447.30px;width:1.00px;height:12.90px;background:#eee1cf"></div>
<div style="left:604.10px;top:447.30px;width:1.00px;height:12.90px;background:#eee1cf"></div>
<div style="left:285.95px;top:447.30px;width:1.00px;height:12.90px;background:#eee1cf"></div>
<div style="left:372.72px;top:447.30px;width:1.00px;height:12.90px;background:#eee1cf"></div>
<div style="left:488.41px;top:447.30px;width:1.00px;height:12.90px;background:#eee1cf"></div>
<div style="left:546.25px;top:447.30px;width:1.00px;height:12.90px;background:#eee1cf"></div>
<div style="left:44.00px;top:450.85px;font-size:9px;">N° di ventilatori</div>
<div style="left:229.00px;top:450.85px;font-size:9px;width:57.85px;text-align:center;">2</div>
<div style="left:286.85px;top:450.85px;font-size:9px;width:86.77px;text-align:center;">3</div>
<div style="left:373.62px;top:450.85px;font-size:9px;width:115.69px;text-align:center;">2</div>
<div style="left:489.31px;top:450.85px;font-size:9px;width:57.85px;text-align:center;">3</div>
<div style="left:547.15px;top:450.85px;font-size:9px;width:57.85px;text-align:center;">4</div>
<div style="left:605.00px;top:451.27px;font-size:8.5px;width:29.50px;text-align:center;">n°</div>
<div style="left:228.10px;top:460.20px;width:1.00px;height:12.90px;background:#eee1cf"></div>
<div style="left:604.10px;top:460.20px;width:1.00px;height:12.90px;background:#eee1cf"></div>
<div style="left:372.72px;top:460.20px;width:1.00px;height:12.90px;background:#eee1cf"></div>
<div style="left:546.25px;top:460.20px;width:1.00px;height:12.90px;background:#eee1cf"></div>
<div style="left:44.00px;top:463.75px;font-size:9px;">Volume accumulo</div>
<div style="left:229.00px;top:463.75px;font-size:9px;width:144.62px;text-align:center;">200</div>
<div style="left:373.62px;top:463.75px;font-size:9px;width:173.54px;text-align:center;">400</div>
<div style="left:547.15px;top:463.75px;font-size:9px;width:57.85px;text-align:center;">460</div>
<div style="left:605.00px;top:464.17px;font-size:8.5px;width:29.50px;text-align:center;">l</div>
<div style="left:41.50px;top:473.10px;width:593.00px;height:12.90px;background:#fdf6ed"></div>
<div style="left:228.10px;top:473.10px;width:1.00px;height:12.90px;background:#eee1cf"></div>
<div style="left:604.10px;top:473.10px;width:1.00px;height:12.90px;background:#eee1cf"></div>
<div style="left:372.72px;top:473.10px;width:1.00px;height:12.90px;background:#eee1cf"></div>
<div style="left:44.00px;top:476.65px;font-size:9px;">Attacchi idraulici</div>
<div style="left:229.00px;top:476.65px;font-size:9px;width:144.62px;text-align:center;">2&quot; VICTAULIC</div>
<div style="left:373.62px;top:476.65px;font-size:9px;width:231.38px;text-align:center;">2&quot; 1/2 VICTAULIC</div>
<div style="left:605.00px;top:477.07px;font-size:8.5px;width:29.50px;text-align:center;">-</div>
<div style="left:41.50px;top:515.03px;font-size:10px;color:#e4923a;font-weight:700;">Dati Elettrici</div>
<div style="left:41.50px;top:525.80px;width:593.00px;height:12.30px;background:#4b84ba"></div>
<div style="left:44.30px;top:527.95px;font-size:10px;color:#fff;font-weight:700;">Unità standard</div>
<div style="left:228.50px;top:525.80px;width:1.00px;height:12.30px;background:#86acd2"></div>
<div style="left:257.42px;top:525.80px;width:1.00px;height:12.30px;background:#86acd2"></div>
<div style="left:286.35px;top:525.80px;width:1.00px;height:12.30px;background:#86acd2"></div>
<div style="left:315.27px;top:525.80px;width:1.00px;height:12.30px;background:#86acd2"></div>
<div style="left:344.19px;top:525.80px;width:1.00px;height:12.30px;background:#86acd2"></div>
<div style="left:373.12px;top:525.80px;width:1.00px;height:12.30px;background:#86acd2"></div>
<div style="left:402.04px;top:525.80px;width:1.00px;height:12.30px;background:#86acd2"></div>
<div style="left:430.96px;top:525.80px;width:1.00px;height:12.30px;background:#86acd2"></div>
<div style="left:459.88px;top:525.80px;width:1.00px;height:12.30px;background:#86acd2"></div>
<div style="left:488.81px;top:525.80px;width:1.00px;height:12.30px;background:#86acd2"></div>
<div style="left:517.73px;top:525.80px;width:1.00px;height:12.30px;background:#86acd2"></div>
<div style="left:546.65px;top:525.80px;width:1.00px;height:12.30px;background:#86acd2"></div>
<div style="left:575.58px;top:525.80px;width:1.00px;height:12.30px;background:#86acd2"></div>
<div style="left:604.50px;top:525.80px;width:1.00px;height:12.30px;background:#86acd2"></div>
<div style="left:229.00px;top:527.80px;font-size:10.3px;color:#fff;font-weight:700;width:28.92px;text-align:center;letter-spacing:-0.15px;">40.2</div>
<div style="left:257.92px;top:527.80px;font-size:10.3px;color:#fff;font-weight:700;width:28.92px;text-align:center;letter-spacing:-0.15px;">50.2</div>
<div style="left:286.85px;top:527.80px;font-size:10.3px;color:#fff;font-weight:700;width:28.92px;text-align:center;letter-spacing:-0.15px;">60.2</div>
<div style="left:315.77px;top:527.80px;font-size:10.3px;color:#fff;font-weight:700;width:28.92px;text-align:center;letter-spacing:-0.15px;">70.2</div>
<div style="left:344.69px;top:527.80px;font-size:10.3px;color:#fff;font-weight:700;width:28.92px;text-align:center;letter-spacing:-0.15px;">80.2</div>
<div style="left:373.62px;top:527.80px;font-size:10.3px;color:#fff;font-weight:700;width:28.92px;text-align:center;letter-spacing:-0.15px;">90.2</div>
<div style="left:402.54px;top:527.80px;font-size:10.3px;color:#fff;font-weight:700;width:28.92px;text-align:center;letter-spacing:-0.15px;">100.2</div>
<div style="left:431.46px;top:527.80px;font-size:10.3px;color:#fff;font-weight:700;width:28.92px;text-align:center;letter-spacing:-0.15px;">115.2</div>
<div style="left:460.38px;top:527.80px;font-size:10.3px;color:#fff;font-weight:700;width:28.92px;text-align:center;letter-spacing:-0.15px;">130.2</div>
<div style="left:489.31px;top:527.80px;font-size:10.3px;color:#fff;font-weight:700;width:28.92px;text-align:center;letter-spacing:-0.15px;">145.2</div>
<div style="left:518.23px;top:527.80px;font-size:10.3px;color:#fff;font-weight:700;width:28.92px;text-align:center;letter-spacing:-0.15px;">160.2</div>
<div style="left:547.15px;top:527.80px;font-size:10.3px;color:#fff;font-weight:700;width:28.92px;text-align:center;letter-spacing:-0.15px;">180.2</div>
<div style="left:576.08px;top:527.80px;font-size:10.3px;color:#fff;font-weight:700;width:28.92px;text-align:center;letter-spacing:-0.15px;">200.2</div>
<div style="left:41.50px;top:539.10px;width:593.00px;height:11.80px;background:#fdf6ed"></div>
<div style="left:228.10px;top:538.10px;width:1.00px;height:12.80px;background:#eee1cf"></div>
<div style="left:604.10px;top:538.10px;width:1.00px;height:12.80px;background:#eee1cf"></div>
<div style="left:44.00px;top:541.10px;font-size:9px;"><b>FLA</b> - Massima corrente assorbita totale</div>
<div style="left:229.00px;top:541.10px;font-size:9px;width:28.92px;text-align:center;">40,2</div>
<div style="left:257.92px;top:541.10px;font-size:9px;width:28.92px;text-align:center;">45,7</div>
<div style="left:286.85px;top:541.10px;font-size:9px;width:28.92px;text-align:center;">53,3</div>
<div style="left:315.77px;top:541.10px;font-size:9px;width:28.92px;text-align:center;">58,7</div>
<div style="left:344.69px;top:541.10px;font-size:9px;width:28.92px;text-align:center;">69,6</div>
<div style="left:373.62px;top:541.10px;font-size:9px;width:28.92px;text-align:center;">75,5</div>
<div style="left:402.54px;top:541.10px;font-size:9px;width:28.92px;text-align:center;">90,0</div>
<div style="left:431.46px;top:541.10px;font-size:9px;width:28.92px;text-align:center;">97,9</div>
<div style="left:460.38px;top:541.10px;font-size:9px;width:28.92px;text-align:center;">106</div>
<div style="left:489.31px;top:541.10px;font-size:9px;width:28.92px;text-align:center;">123</div>
<div style="left:518.23px;top:541.10px;font-size:9px;width:28.92px;text-align:center;">136</div>
<div style="left:547.15px;top:541.10px;font-size:9px;width:28.92px;text-align:center;">159</div>
<div style="left:576.08px;top:541.10px;font-size:9px;width:28.92px;text-align:center;">170</div>
<div style="left:605.00px;top:541.10px;font-size:9px;width:29.50px;text-align:center;">A</div>
<div style="left:228.10px;top:550.90px;width:1.00px;height:12.80px;background:#eee1cf"></div>
<div style="left:604.10px;top:550.90px;width:1.00px;height:12.80px;background:#eee1cf"></div>
<div style="left:44.00px;top:553.90px;font-size:9px;"><b>FLI</b> - Massima potenza assorbita totale</div>
<div style="left:229.00px;top:553.90px;font-size:9px;width:28.92px;text-align:center;">21,6</div>
<div style="left:257.92px;top:553.90px;font-size:9px;width:28.92px;text-align:center;">24,4</div>
<div style="left:286.85px;top:553.90px;font-size:9px;width:28.92px;text-align:center;">28,4</div>
<div style="left:315.77px;top:553.90px;font-size:9px;width:28.92px;text-align:center;">31,0</div>
<div style="left:344.69px;top:553.90px;font-size:9px;width:28.92px;text-align:center;">36,2</div>
<div style="left:373.62px;top:553.90px;font-size:9px;width:28.92px;text-align:center;">44,0</div>
<div style="left:402.54px;top:553.90px;font-size:9px;width:28.92px;text-align:center;">55,0</div>
<div style="left:431.46px;top:553.90px;font-size:9px;width:28.92px;text-align:center;">60,5</div>
<div style="left:460.38px;top:553.90px;font-size:9px;width:28.92px;text-align:center;">66,0</div>
<div style="left:489.31px;top:553.90px;font-size:9px;width:28.92px;text-align:center;">75,7</div>
<div style="left:518.23px;top:553.90px;font-size:9px;width:28.92px;text-align:center;">83,3</div>
<div style="left:547.15px;top:553.90px;font-size:9px;width:28.92px;text-align:center;">95,4</div>
<div style="left:576.08px;top:553.90px;font-size:9px;width:28.92px;text-align:center;">103</div>
<div style="left:605.00px;top:553.90px;font-size:9px;width:29.50px;text-align:center;">kW</div>
<div style="left:41.50px;top:563.70px;width:593.00px;height:12.80px;background:#fdf6ed"></div>
<div style="left:228.10px;top:563.70px;width:1.00px;height:12.80px;background:#eee1cf"></div>
<div style="left:604.10px;top:563.70px;width:1.00px;height:12.80px;background:#eee1cf"></div>
<div style="left:44.00px;top:566.70px;font-size:9px;"><b>MIC</b> - Massima corrente di spunto dell&#8217;unità</div>
<div style="left:229.00px;top:566.70px;font-size:9px;width:28.92px;text-align:center;">134</div>
<div style="left:257.92px;top:566.70px;font-size:9px;width:28.92px;text-align:center;">143</div>
<div style="left:286.85px;top:566.70px;font-size:9px;width:28.92px;text-align:center;">149</div>
<div style="left:315.77px;top:566.70px;font-size:9px;width:28.92px;text-align:center;">173</div>
<div style="left:344.69px;top:566.70px;font-size:9px;width:28.92px;text-align:center;">213</div>
<div style="left:373.62px;top:566.70px;font-size:9px;width:28.92px;text-align:center;">264</div>
<div style="left:402.54px;top:566.70px;font-size:9px;width:28.92px;text-align:center;">259</div>
<div style="left:431.46px;top:566.70px;font-size:9px;width:28.92px;text-align:center;">267</div>
<div style="left:460.38px;top:566.70px;font-size:9px;width:28.92px;text-align:center;">267</div>
<div style="left:489.31px;top:566.70px;font-size:9px;width:28.92px;text-align:center;">348</div>
<div style="left:518.23px;top:566.70px;font-size:9px;width:28.92px;text-align:center;">361</div>
<div style="left:547.15px;top:566.70px;font-size:9px;width:28.92px;text-align:center;">355</div>
<div style="left:576.08px;top:566.70px;font-size:9px;width:28.92px;text-align:center;">391</div>
<div style="left:605.00px;top:566.70px;font-size:9px;width:29.50px;text-align:center;">A</div>
<div style="left:228.10px;top:576.50px;width:1.00px;height:24.10px;background:#eee1cf"></div>
<div style="left:604.10px;top:576.50px;width:1.00px;height:24.10px;background:#eee1cf"></div>
<div style="left:44.00px;top:580.55px;font-size:9px;"><b>MIC SS</b> - Massima corrente di spunto</div>
<div style="left:44.00px;top:589.75px;font-size:9px;">dell&#8217;unità con opzione soft starter</div>
<div style="left:229.00px;top:585.15px;font-size:9px;width:28.92px;text-align:center;">89,3</div>
<div style="left:257.92px;top:585.15px;font-size:9px;width:28.92px;text-align:center;">96,3</div>
<div style="left:286.85px;top:585.15px;font-size:9px;width:28.92px;text-align:center;">101</div>
<div style="left:315.77px;top:585.15px;font-size:9px;width:28.92px;text-align:center;">117</div>
<div style="left:344.69px;top:585.15px;font-size:9px;width:28.92px;text-align:center;">143</div>
<div style="left:373.62px;top:585.15px;font-size:9px;width:28.92px;text-align:center;">174</div>
<div style="left:402.54px;top:585.15px;font-size:9px;width:28.92px;text-align:center;">175</div>
<div style="left:431.46px;top:585.15px;font-size:9px;width:28.92px;text-align:center;">183</div>
<div style="left:460.38px;top:585.15px;font-size:9px;width:28.92px;text-align:center;">183</div>
<div style="left:489.31px;top:585.15px;font-size:9px;width:28.92px;text-align:center;">200</div>
<div style="left:518.23px;top:585.15px;font-size:9px;width:28.92px;text-align:center;">246</div>
<div style="left:547.15px;top:585.15px;font-size:9px;width:28.92px;text-align:center;">248</div>
<div style="left:576.08px;top:585.15px;font-size:9px;width:28.92px;text-align:center;">272</div>
<div style="left:605.00px;top:585.15px;font-size:9px;width:29.50px;text-align:center;">A</div>
<div style="left:41.50px;top:600.60px;width:593.00px;height:12.30px;background:#4b84ba"></div>
<div style="left:44.30px;top:602.75px;font-size:10px;color:#fff;font-weight:700;">Unità con pompa alta prevalenza</div>
<div style="left:228.50px;top:600.60px;width:1.00px;height:12.30px;background:#86acd2"></div>
<div style="left:257.42px;top:600.60px;width:1.00px;height:12.30px;background:#86acd2"></div>
<div style="left:286.35px;top:600.60px;width:1.00px;height:12.30px;background:#86acd2"></div>
<div style="left:315.27px;top:600.60px;width:1.00px;height:12.30px;background:#86acd2"></div>
<div style="left:344.19px;top:600.60px;width:1.00px;height:12.30px;background:#86acd2"></div>
<div style="left:373.12px;top:600.60px;width:1.00px;height:12.30px;background:#86acd2"></div>
<div style="left:402.04px;top:600.60px;width:1.00px;height:12.30px;background:#86acd2"></div>
<div style="left:430.96px;top:600.60px;width:1.00px;height:12.30px;background:#86acd2"></div>
<div style="left:459.88px;top:600.60px;width:1.00px;height:12.30px;background:#86acd2"></div>
<div style="left:488.81px;top:600.60px;width:1.00px;height:12.30px;background:#86acd2"></div>
<div style="left:517.73px;top:600.60px;width:1.00px;height:12.30px;background:#86acd2"></div>
<div style="left:546.65px;top:600.60px;width:1.00px;height:12.30px;background:#86acd2"></div>
<div style="left:575.58px;top:600.60px;width:1.00px;height:12.30px;background:#86acd2"></div>
<div style="left:604.50px;top:600.60px;width:1.00px;height:12.30px;background:#86acd2"></div>
<div style="left:229.00px;top:602.60px;font-size:10.3px;color:#fff;font-weight:700;width:28.92px;text-align:center;letter-spacing:-0.15px;">40.2</div>
<div style="left:257.92px;top:602.60px;font-size:10.3px;color:#fff;font-weight:700;width:28.92px;text-align:center;letter-spacing:-0.15px;">50.2</div>
<div style="left:286.85px;top:602.60px;font-size:10.3px;color:#fff;font-weight:700;width:28.92px;text-align:center;letter-spacing:-0.15px;">60.2</div>
<div style="left:315.77px;top:602.60px;font-size:10.3px;color:#fff;font-weight:700;width:28.92px;text-align:center;letter-spacing:-0.15px;">70.2</div>
<div style="left:344.69px;top:602.60px;font-size:10.3px;color:#fff;font-weight:700;width:28.92px;text-align:center;letter-spacing:-0.15px;">80.2</div>
<div style="left:373.62px;top:602.60px;font-size:10.3px;color:#fff;font-weight:700;width:28.92px;text-align:center;letter-spacing:-0.15px;">90.2</div>
<div style="left:402.54px;top:602.60px;font-size:10.3px;color:#fff;font-weight:700;width:28.92px;text-align:center;letter-spacing:-0.15px;">100.2</div>
<div style="left:431.46px;top:602.60px;font-size:10.3px;color:#fff;font-weight:700;width:28.92px;text-align:center;letter-spacing:-0.15px;">115.2</div>
<div style="left:460.38px;top:602.60px;font-size:10.3px;color:#fff;font-weight:700;width:28.92px;text-align:center;letter-spacing:-0.15px;">130.2</div>
<div style="left:489.31px;top:602.60px;font-size:10.3px;color:#fff;font-weight:700;width:28.92px;text-align:center;letter-spacing:-0.15px;">145.2</div>
<div style="left:518.23px;top:602.60px;font-size:10.3px;color:#fff;font-weight:700;width:28.92px;text-align:center;letter-spacing:-0.15px;">160.2</div>
<div style="left:547.15px;top:602.60px;font-size:10.3px;color:#fff;font-weight:700;width:28.92px;text-align:center;letter-spacing:-0.15px;">180.2</div>
<div style="left:576.08px;top:602.60px;font-size:10.3px;color:#fff;font-weight:700;width:28.92px;text-align:center;letter-spacing:-0.15px;">200.2</div>
<div style="left:228.10px;top:612.90px;width:1.00px;height:12.80px;background:#eee1cf"></div>
<div style="left:604.10px;top:612.90px;width:1.00px;height:12.80px;background:#eee1cf"></div>
<div style="left:44.00px;top:615.90px;font-size:9px;"><b>FLA</b> - Massima corrente assorbita totale</div>
<div style="left:229.00px;top:615.90px;font-size:9px;width:28.92px;text-align:center;">46,3</div>
<div style="left:257.92px;top:615.90px;font-size:9px;width:28.92px;text-align:center;">51,8</div>
<div style="left:286.85px;top:615.90px;font-size:9px;width:28.92px;text-align:center;">59,4</div>
<div style="left:315.77px;top:615.90px;font-size:9px;width:28.92px;text-align:center;">64,8</div>
<div style="left:344.69px;top:615.90px;font-size:9px;width:28.92px;text-align:center;">76,0</div>
<div style="left:373.62px;top:615.90px;font-size:9px;width:28.92px;text-align:center;">81,6</div>
<div style="left:402.54px;top:615.90px;font-size:9px;width:28.92px;text-align:center;">96,1</div>
<div style="left:431.46px;top:615.90px;font-size:9px;width:28.92px;text-align:center;">107</div>
<div style="left:460.38px;top:615.90px;font-size:9px;width:28.92px;text-align:center;">115</div>
<div style="left:489.31px;top:615.90px;font-size:9px;width:28.92px;text-align:center;">132</div>
<div style="left:518.23px;top:615.90px;font-size:9px;width:28.92px;text-align:center;">147</div>
<div style="left:547.15px;top:615.90px;font-size:9px;width:28.92px;text-align:center;">169</div>
<div style="left:576.08px;top:615.90px;font-size:9px;width:28.92px;text-align:center;">180</div>
<div style="left:605.00px;top:615.90px;font-size:9px;width:29.50px;text-align:center;">A</div>
<div style="left:41.50px;top:625.70px;width:593.00px;height:12.80px;background:#fdf6ed"></div>
<div style="left:228.10px;top:625.70px;width:1.00px;height:12.80px;background:#eee1cf"></div>
<div style="left:604.10px;top:625.70px;width:1.00px;height:12.80px;background:#eee1cf"></div>
<div style="left:44.00px;top:628.70px;font-size:9px;"><b>FLI</b> - Massima potenza assorbita totale</div>
<div style="left:229.00px;top:628.70px;font-size:9px;width:28.92px;text-align:center;">25,1</div>
<div style="left:257.92px;top:628.70px;font-size:9px;width:28.92px;text-align:center;">27,9</div>
<div style="left:286.85px;top:628.70px;font-size:9px;width:28.92px;text-align:center;">31,9</div>
<div style="left:315.77px;top:628.70px;font-size:9px;width:28.92px;text-align:center;">34,5</div>
<div style="left:344.69px;top:628.70px;font-size:9px;width:28.92px;text-align:center;">42,1</div>
<div style="left:373.62px;top:628.70px;font-size:9px;width:28.92px;text-align:center;">47,5</div>
<div style="left:402.54px;top:628.70px;font-size:9px;width:28.92px;text-align:center;">58,5</div>
<div style="left:431.46px;top:628.70px;font-size:9px;width:28.92px;text-align:center;">65,1</div>
<div style="left:460.38px;top:628.70px;font-size:9px;width:28.92px;text-align:center;">70,6</div>
<div style="left:489.31px;top:628.70px;font-size:9px;width:28.92px;text-align:center;">80,3</div>
<div style="left:518.23px;top:628.70px;font-size:9px;width:28.92px;text-align:center;">89,6</div>
<div style="left:547.15px;top:628.70px;font-size:9px;width:28.92px;text-align:center;">102</div>
<div style="left:576.08px;top:628.70px;font-size:9px;width:28.92px;text-align:center;">109</div>
<div style="left:605.00px;top:628.70px;font-size:9px;width:29.50px;text-align:center;">kW</div>
<div style="left:228.10px;top:638.50px;width:1.00px;height:12.80px;background:#eee1cf"></div>
<div style="left:604.10px;top:638.50px;width:1.00px;height:12.80px;background:#eee1cf"></div>
<div style="left:44.00px;top:641.50px;font-size:9px;"><b>MIC</b> - Massima corrente di spunto dell&#8217;unità</div>
<div style="left:229.00px;top:641.50px;font-size:9px;width:28.92px;text-align:center;">140</div>
<div style="left:257.92px;top:641.50px;font-size:9px;width:28.92px;text-align:center;">150</div>
<div style="left:286.85px;top:641.50px;font-size:9px;width:28.92px;text-align:center;">155</div>
<div style="left:315.77px;top:641.50px;font-size:9px;width:28.92px;text-align:center;">179</div>
<div style="left:344.69px;top:641.50px;font-size:9px;width:28.92px;text-align:center;">219</div>
<div style="left:373.62px;top:641.50px;font-size:9px;width:28.92px;text-align:center;">270</div>
<div style="left:402.54px;top:641.50px;font-size:9px;width:28.92px;text-align:center;">265</div>
<div style="left:431.46px;top:641.50px;font-size:9px;width:28.92px;text-align:center;">276</div>
<div style="left:460.38px;top:641.50px;font-size:9px;width:28.92px;text-align:center;">276</div>
<div style="left:489.31px;top:641.50px;font-size:9px;width:28.92px;text-align:center;">357</div>
<div style="left:518.23px;top:641.50px;font-size:9px;width:28.92px;text-align:center;">372</div>
<div style="left:547.15px;top:641.50px;font-size:9px;width:28.92px;text-align:center;">365</div>
<div style="left:576.08px;top:641.50px;font-size:9px;width:28.92px;text-align:center;">402</div>
<div style="left:605.00px;top:641.50px;font-size:9px;width:29.50px;text-align:center;">A</div>
<div style="left:41.50px;top:651.30px;width:593.00px;height:24.10px;background:#fdf6ed"></div>
<div style="left:228.10px;top:651.30px;width:1.00px;height:24.10px;background:#eee1cf"></div>
<div style="left:604.10px;top:651.30px;width:1.00px;height:24.10px;background:#eee1cf"></div>
<div style="left:44.00px;top:655.35px;font-size:9px;"><b>MIC SS</b> - Massima corrente di spunto</div>
<div style="left:44.00px;top:664.55px;font-size:9px;">dell&#8217;unità con opzione soft starter</div>
<div style="left:229.00px;top:659.95px;font-size:9px;width:28.92px;text-align:center;">95,4</div>
<div style="left:257.92px;top:659.95px;font-size:9px;width:28.92px;text-align:center;">102</div>
<div style="left:286.85px;top:659.95px;font-size:9px;width:28.92px;text-align:center;">107</div>
<div style="left:315.77px;top:659.95px;font-size:9px;width:28.92px;text-align:center;">123</div>
<div style="left:344.69px;top:659.95px;font-size:9px;width:28.92px;text-align:center;">150</div>
<div style="left:373.62px;top:659.95px;font-size:9px;width:28.92px;text-align:center;">180</div>
<div style="left:402.54px;top:659.95px;font-size:9px;width:28.92px;text-align:center;">181</div>
<div style="left:431.46px;top:659.95px;font-size:9px;width:28.92px;text-align:center;">192</div>
<div style="left:460.38px;top:659.95px;font-size:9px;width:28.92px;text-align:center;">192</div>
<div style="left:489.31px;top:659.95px;font-size:9px;width:28.92px;text-align:center;">209</div>
<div style="left:518.23px;top:659.95px;font-size:9px;width:28.92px;text-align:center;">257</div>
<div style="left:547.15px;top:659.95px;font-size:9px;width:28.92px;text-align:center;">258</div>
<div style="left:576.08px;top:659.95px;font-size:9px;width:28.92px;text-align:center;">282</div>
<div style="left:605.00px;top:659.95px;font-size:9px;width:29.50px;text-align:center;">A</div>
<div style="left:41.50px;top:701.33px;font-size:10px;color:#e4923a;font-weight:700;">Limiti operativi</div>
<div style="left:351.40px;top:700.74px;font-size:10px;color:#4a7db5;font-weight:700;width:122.10px;text-align:center;">Raffreddamento</div>
<div style="left:473.50px;top:700.74px;font-size:10px;color:#4a7db5;font-weight:700;width:123.30px;text-align:center;">Riscaldamento</div>
<div style="left:41.50px;top:712.10px;width:594.30px;height:12.90px;background:#4b84ba"></div>
<div style="left:228.50px;top:712.10px;width:1.00px;height:12.90px;background:#86acd2"></div>
<div style="left:350.90px;top:712.10px;width:1.00px;height:12.90px;background:#86acd2"></div>
<div style="left:411.70px;top:712.10px;width:1.00px;height:12.90px;background:#86acd2"></div>
<div style="left:473.00px;top:712.10px;width:1.00px;height:12.90px;background:#86acd2"></div>
<div style="left:534.70px;top:712.10px;width:1.00px;height:12.90px;background:#86acd2"></div>
<div style="left:596.30px;top:712.10px;width:1.00px;height:12.90px;background:#86acd2"></div>
<div style="left:44.30px;top:714.55px;font-size:10px;color:#fff;font-weight:700;">Temperatura</div>
<div style="left:229.00px;top:714.55px;font-size:10px;color:#fff;font-weight:700;width:122.40px;text-align:center;">Tipo Unità</div>
<div style="left:351.40px;top:714.55px;font-size:10px;color:#fff;font-weight:700;width:60.80px;text-align:center;">min</div>
<div style="left:412.20px;top:714.55px;font-size:10px;color:#fff;font-weight:700;width:61.30px;text-align:center;">max</div>
<div style="left:473.50px;top:714.55px;font-size:10px;color:#fff;font-weight:700;width:61.70px;text-align:center;">min</div>
<div style="left:535.20px;top:714.55px;font-size:10px;color:#fff;font-weight:700;width:61.60px;text-align:center;">max</div>
<div style="left:41.50px;top:726.00px;width:594.30px;height:11.86px;background:#fdf6ed"></div>
<div style="left:228.10px;top:725.00px;width:1.00px;height:12.86px;background:#eee1cf"></div>
<div style="left:595.90px;top:725.00px;width:1.00px;height:12.86px;background:#eee1cf"></div>
<div style="left:44.00px;top:727.53px;font-size:9px;">Temperatura ingresso aria esterna</div>
<div style="left:229.00px;top:727.53px;font-size:9px;width:122.40px;text-align:center;">IR, BR, IP, BP</div>
<div style="left:351.40px;top:727.53px;font-size:9px;width:60.80px;text-align:center;">-10<sup class=a>*</sup></div>
<div style="left:412.20px;top:727.53px;font-size:9px;width:61.30px;text-align:center;">52<sup class=a>*</sup><sup class=a>*</sup></div>
<div style="left:473.50px;top:727.53px;font-size:9px;width:61.70px;text-align:center;">-10</div>
<div style="left:535.20px;top:727.53px;font-size:9px;width:61.60px;text-align:center;">40<sup class=a>*</sup></div>
<div style="left:596.80px;top:727.53px;font-size:9px;width:39.00px;text-align:center;">(°C)</div>
<div style="left:228.10px;top:737.86px;width:1.00px;height:12.86px;background:#eee1cf"></div>
<div style="left:595.90px;top:737.86px;width:1.00px;height:12.86px;background:#eee1cf"></div>
<div style="left:44.00px;top:740.39px;font-size:9px;">Temperatura uscita acqua</div>
<div style="left:229.00px;top:740.39px;font-size:9px;width:122.40px;text-align:center;">IR, IP</div>
<div style="left:351.40px;top:740.39px;font-size:9px;width:60.80px;text-align:center;">5</div>
<div style="left:412.20px;top:740.39px;font-size:9px;width:61.30px;text-align:center;">25</div>
<div style="left:473.50px;top:740.39px;font-size:9px;width:61.70px;text-align:center;">30</div>
<div style="left:535.20px;top:740.39px;font-size:9px;width:61.60px;text-align:center;">55</div>
<div style="left:596.80px;top:740.39px;font-size:9px;width:39.00px;text-align:center;">(°C)</div>
<div style="left:41.50px;top:750.72px;width:594.30px;height:12.86px;background:#fdf6ed"></div>
<div style="left:228.10px;top:750.72px;width:1.00px;height:12.86px;background:#eee1cf"></div>
<div style="left:595.90px;top:750.72px;width:1.00px;height:12.86px;background:#eee1cf"></div>
<div style="left:44.00px;top:753.25px;font-size:9px;">Temperatura uscita acqua</div>
<div style="left:229.00px;top:753.25px;font-size:9px;width:122.40px;text-align:center;">BR, BP</div>
<div style="left:351.40px;top:753.25px;font-size:9px;width:60.80px;text-align:center;">-12</div>
<div style="left:412.20px;top:753.25px;font-size:9px;width:61.30px;text-align:center;">5</div>
<div style="left:473.50px;top:753.25px;font-size:9px;width:61.70px;text-align:center;">30</div>
<div style="left:535.20px;top:753.25px;font-size:9px;width:61.60px;text-align:center;">55</div>
<div style="left:596.80px;top:753.25px;font-size:9px;width:39.00px;text-align:center;">(°C)</div>
<div style="left:228.10px;top:763.58px;width:1.00px;height:12.86px;background:#eee1cf"></div>
<div style="left:595.90px;top:763.58px;width:1.00px;height:12.86px;background:#eee1cf"></div>
<div style="left:44.00px;top:766.11px;font-size:9px;">Temperatura uscita acqua (VD)</div>
<div style="left:229.00px;top:766.11px;font-size:9px;width:122.40px;text-align:center;">IR, BR, IP, BP</div>
<div style="left:351.40px;top:766.11px;font-size:9px;width:60.80px;text-align:center;">30</div>
<div style="left:412.20px;top:766.11px;font-size:9px;width:61.30px;text-align:center;">70</div>
<div style="left:473.50px;top:766.11px;font-size:9px;width:61.70px;text-align:center;">30</div>
<div style="left:535.20px;top:766.11px;font-size:9px;width:61.60px;text-align:center;">70</div>
<div style="left:596.80px;top:766.11px;font-size:9px;width:39.00px;text-align:center;">(°C)</div>
<div style="left:41.50px;top:776.44px;width:594.30px;height:12.86px;background:#fdf6ed"></div>
<div style="left:228.10px;top:776.44px;width:1.00px;height:12.86px;background:#eee1cf"></div>
<div style="left:595.90px;top:776.44px;width:1.00px;height:12.86px;background:#eee1cf"></div>
<div style="left:44.00px;top:778.97px;font-size:9px;">Temperatura uscita acqua (VR)</div>
<div style="left:229.00px;top:778.97px;font-size:9px;width:122.40px;text-align:center;">IR, BR</div>
<div style="left:351.40px;top:778.97px;font-size:9px;width:60.80px;text-align:center;">30</div>
<div style="left:412.20px;top:778.97px;font-size:9px;width:61.30px;text-align:center;">55</div>
<div style="left:473.50px;top:778.97px;font-size:9px;width:61.70px;text-align:center;">-</div>
<div style="left:535.20px;top:778.97px;font-size:9px;width:61.60px;text-align:center;">-</div>
<div style="left:596.80px;top:778.97px;font-size:9px;width:39.00px;text-align:center;">(°C)</div>
<div style="left:41.50px;top:797.58px;font-size:9px;">* con opzione Regolazione ventilatori modulante (controllo condensazione / evaporazione)</div>
<div style="left:41.50px;top:808.78px;font-size:9px;">** con funzione ATC di protezione alte temperature esterne</div>
<div style="left:42.40px;top:928.18px;font-size:9px;color:#333;transform:scaleX(0.84);transform-origin:0 0;">pag. <span style="font-size:9.8px">42</span> - Guida ai Prodotti 2017</div>
</body></html>
